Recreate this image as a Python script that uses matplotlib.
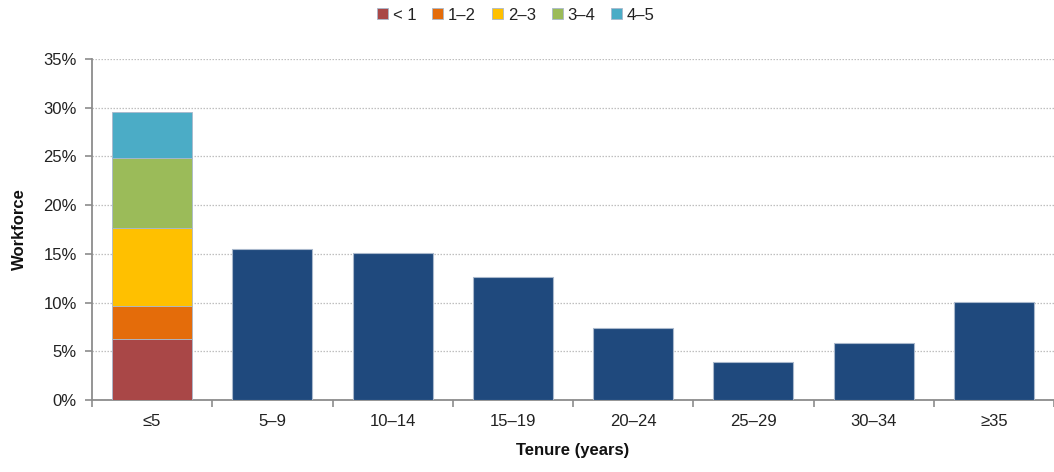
import matplotlib
matplotlib.use("Agg")
import matplotlib.pyplot as plt
from matplotlib.ticker import FuncFormatter, FixedLocator
import numpy as np

plt.rcParams['font.family'] = ['Liberation Sans', 'DejaVu Sans']

categories = ["≤5", "5–9", "10–14", "15–19", "20–24", "25–29", "30–34", "≥35"]
# Breakdown of the first (≤5 years) bar, in percent of workforce
sub_labels = ["< 1", "1–2", "2–3", "3–4", "4–5"]
sub_values = [6.3, 3.3, 8.1, 7.1, 4.8]
sub_colors = ["#A94747", "#E46C0A", "#FFC000", "#9BBB59", "#4BACC6"]
# Remaining tenure bands, in percent of workforce
band_values = [15.5, 15.1, 12.6, 7.4, 3.9, 5.8, 10.1]
bar_color = "#1F497D"
edge_color = "#A9B8CC"

fig = plt.figure(figsize=(10.54, 4.72), dpi=100)
ax = fig.add_axes([92 / 1054, 1 - 400 / 472, 1 - 92 / 1054, (400 - 59) / 472])

x = np.arange(len(categories))
width = 0.665

bottom = 0.0
handles = []
for lab, val, col in zip(sub_labels, sub_values, sub_colors):
    h = ax.bar(x[0], val, width, bottom=bottom, color=col, edgecolor=edge_color,
               linewidth=0.6, label=lab, zorder=3)
    handles.append(h)
    bottom += val

ax.bar(x[1:], band_values, width, color=bar_color, edgecolor=edge_color,
       linewidth=0.8, zorder=3)

ax.set_xlim(-0.5, len(categories) - 0.5)
ax.set_ylim(0, 35)
ax.set_yticks(np.arange(0, 36, 5))
ax.yaxis.set_major_formatter(FuncFormatter(lambda v, p: f"{int(v)}%"))
ax.grid(axis="y", color="#BFBFBF", linestyle=(0, (1.2, 1.2)), linewidth=0.9, zorder=0)

ax.set_xticks(x)
ax.set_xticklabels(categories)
ax.xaxis.set_minor_locator(FixedLocator(np.arange(-0.5, len(categories) + 0.5, 1)))
ax.tick_params(axis="x", which="major", length=0, pad=10, labelsize=12, colors="#222222")
ax.tick_params(axis="x", which="minor", length=5, width=1.2, color="#8C8C8C", direction="out")
ax.tick_params(axis="y", length=5, width=1.2, color="#8C8C8C", labelsize=12,
               labelcolor="#222222", pad=6)

for side in ("top", "right"):
    ax.spines[side].set_visible(False)
for side in ("left", "bottom"):
    ax.spines[side].set_color("#8C8C8C")
    ax.spines[side].set_linewidth(1.3)

ax.set_ylabel("Workforce", fontsize=12, fontweight="bold", color="#111111", labelpad=12)
ax.set_xlabel("Tenure (years)", fontsize=12, fontweight="bold", color="#111111", labelpad=10)

fig.legend(handles=handles, labels=sub_labels, loc="center", bbox_to_anchor=(516 / 1054, 1 - 15 / 472),
           ncol=5, frameon=False, fontsize=12, handlelength=0.65, handleheight=0.65,
           handletextpad=0.3, columnspacing=0.95, labelcolor="#222222")

fig.savefig("out.png", dpi=100)
